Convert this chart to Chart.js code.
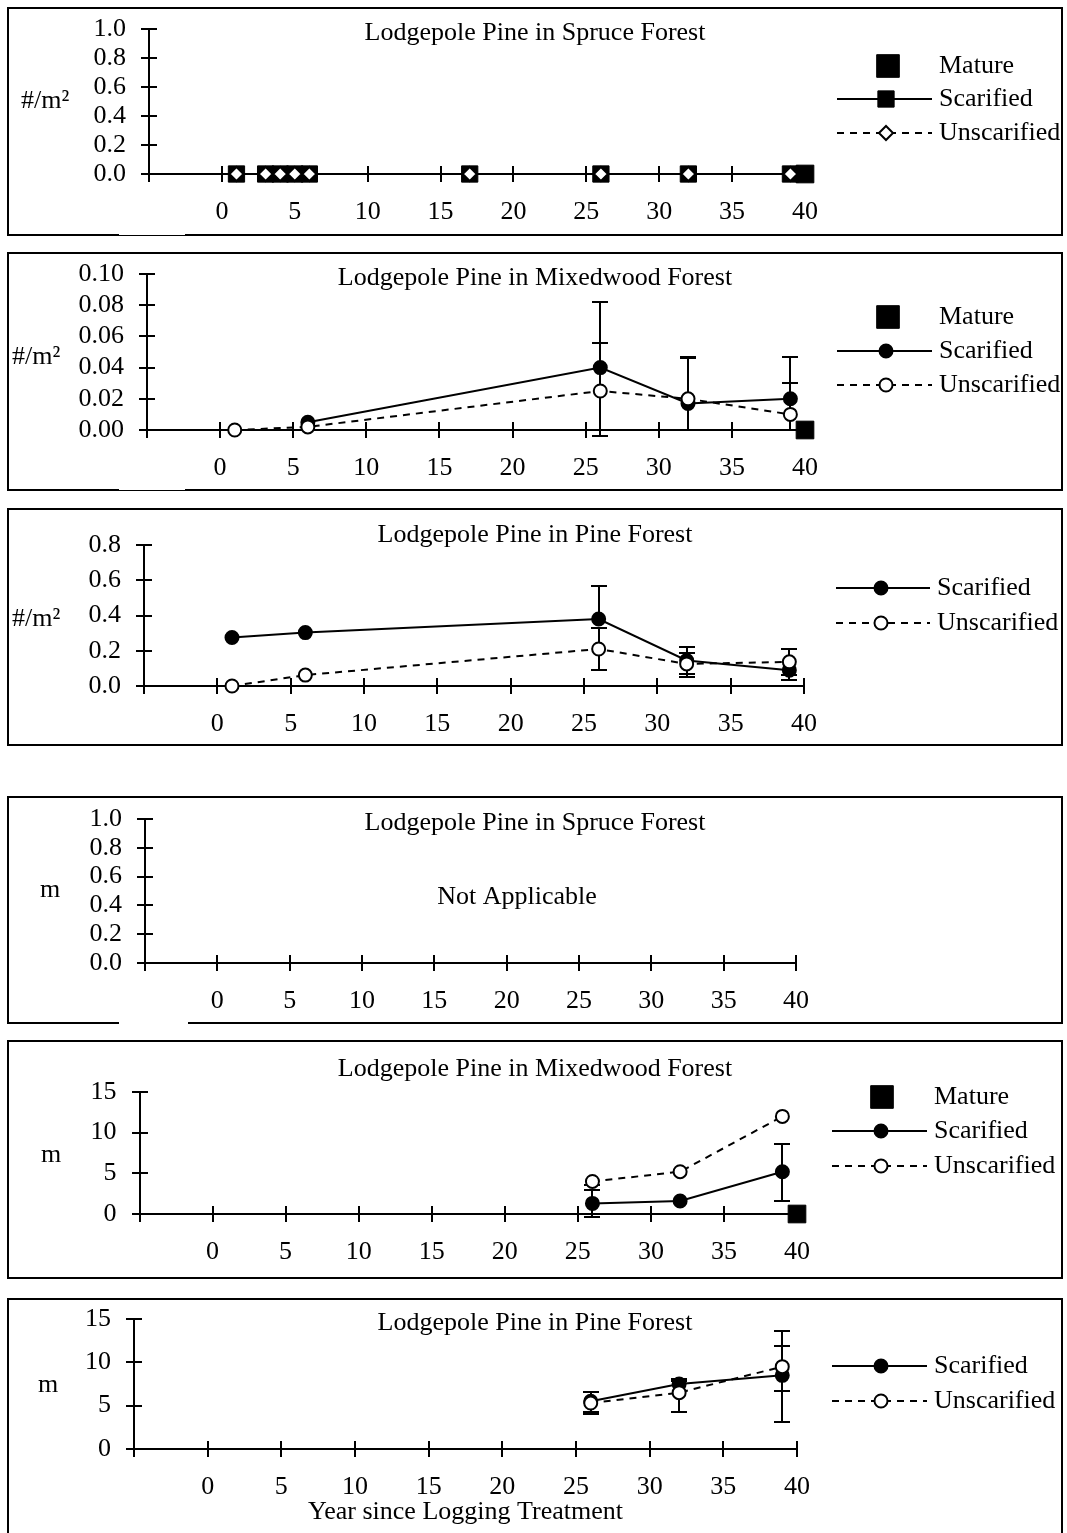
<!DOCTYPE html>
<html>
<head>
<meta charset="utf-8">
<title>Lodgepole Pine density and height</title>
<script src="https://cdn.jsdelivr.net/npm/chart.js@4.4.1/dist/chart.umd.min.js"></script>
<style>
html, body { margin: 0; padding: 0; background: #fff; }
body { position: relative; width: 1067px; height: 1533px; overflow: hidden; }
.panel { position: absolute; border: 2px solid #000; box-sizing: border-box; background: #fff; overflow: hidden; }
.panel canvas { position: absolute; left: 0; top: 0; }
.gap { position: absolute; background: #fff; }
</style>
</head>
<body>
<script>
// ---------------- DATA ----------------
// common
const matureYear = [40];

// Panel 1: density, Lodgepole Pine in Spruce Forest
const spruceYears = [1, 3, 4, 5, 6, 17, 26, 32, 39];
const spruceDensScarified = [0, 0, 0, 0, 0, 0, 0, 0, 0];
const spruceDensUnscarified = [0, 0, 0, 0, 0, 0, 0, 0, 0];
const spruceDensMature = [0];

// Panel 2: density, Lodgepole Pine in Mixedwood Forest
const mixYears = [1, 6, 26, 32, 39];
const mixDensScarified   = [null, 0.005, 0.040, 0.017, 0.020];
const mixDensScarifiedHi = [null, null, 0.082, 0.046, 0.047];
const mixDensScarifiedLo = [null, null, -0.004, 0, 0];
const mixDensUnscarified   = [0, 0.002, 0.025, 0.020, 0.010];
const mixDensUnscarifiedHi = [null, null, 0.056, 0.047, 0.030];
const mixDensUnscarifiedLo = [null, null, -0.004, 0, 0];
const mixDensMature = [0];

// Panel 3: density, Lodgepole Pine in Pine Forest
const pineYears = [1, 6, 26, 32, 39];
const pineDensScarified   = [0.275, 0.303, 0.38, 0.145, 0.09];
const pineDensScarifiedHi = [null, null, 0.57, 0.19, null];
const pineDensScarifiedLo = [null, null, null, 0.07, 0.035];
const pineDensUnscarified   = [0, 0.062, 0.21, 0.125, 0.137];
const pineDensUnscarifiedHi = [null, null, 0.33, 0.22, 0.21];
const pineDensUnscarifiedLo = [null, null, 0.09, 0.052, 0.062];

// Panel 5: height, Lodgepole Pine in Mixedwood Forest
const heightYears = [26, 32, 39];
const mixHtScarified   = [1.3, 1.6, 5.2];
const mixHtScarifiedHi = [2.9, null, 8.6];
const mixHtScarifiedLo = [-0.4, null, 1.6];
const mixHtUnscarified   = [4.0, 5.2, 12.0];
const mixHtUnscarifiedHi = [null, null, null];
const mixHtUnscarifiedLo = [3.6, null, null];
const mixHtMature = [0];

// Panel 6: height, Lodgepole Pine in Pine Forest
const pineHtScarified   = [5.5, 7.5, 8.5];
const pineHtScarifiedHi = [6.6, 8.1, 13.6];
const pineHtScarifiedLo = [4.3, null, 3.1];
const pineHtUnscarified   = [5.3, 6.5, 9.5];
const pineHtUnscarifiedHi = [null, 7.8, 11.9];
const pineHtUnscarifiedLo = [4.05, 4.3, 6.7];

// labels
const seriesNames = ['Unscarified', 'Scarified', 'Mature'];
const panelTitles = [
  'Lodgepole Pine in Spruce Forest',
  'Lodgepole Pine in Mixedwood Forest',
  'Lodgepole Pine in Pine Forest',
  'Lodgepole Pine in Spruce Forest',
  'Lodgepole Pine in Mixedwood Forest',
  'Lodgepole Pine in Pine Forest'
];
const densityUnit = '#/m\u00B2';
const heightUnit = 'm';
const xAxisTitle = 'Year since Logging Treatment';
const notApplicableText = 'Not Applicable';

// ---------------- STYLE / BUILDERS ----------------
const FAMILY = "'Liberation Serif', 'Times New Roman', Times, serif";
const FSIZE = 26;
const FONT = FSIZE + 'px ' + FAMILY;
const TOP_PAD = 17;
Chart.defaults.font.family = FAMILY;
Chart.defaults.font.size = FSIZE;
Chart.defaults.color = '#000';

function toPoints(xs, ys) { return xs.map((x, i) => ({ x: x, y: ys[i] })); }

function unscarDS(xs, ys, hi, lo, style) {
  return {
    label: seriesNames[0], data: toPoints(xs, ys), errHi: hi || null, errLo: lo || null,
    borderColor: '#000', borderWidth: 2, borderDash: [7, 6], backgroundColor: '#fff',
    pointStyle: style, pointRadius: style === 'rectRot' ? 7 : 6.5, pointBorderWidth: 2,
    pointBackgroundColor: '#fff', pointBorderColor: '#000', pointHoverRadius: 0,
    tension: 0, clip: false, order: 0, showLine: true, spanGaps: false
  };
}
function scarDS(xs, ys, hi, lo, style) {
  return {
    label: seriesNames[1], data: toPoints(xs, ys), errHi: hi || null, errLo: lo || null,
    borderColor: '#000', borderWidth: 2, backgroundColor: '#000',
    pointStyle: style, pointRadius: style === 'rect' ? 11.5 : 6.5, pointBorderWidth: style === 'rect' ? 1 : 2,
    pointBackgroundColor: '#000', pointBorderColor: '#000', pointHoverRadius: 0,
    tension: 0, clip: false, order: 1, showLine: true, spanGaps: false
  };
}
function matureDS(ys) {
  return {
    label: seriesNames[2], data: toPoints(matureYear, ys),
    borderColor: '#000', borderWidth: 0, backgroundColor: '#000',
    pointStyle: 'rect', pointRadius: 12.5, pointBorderWidth: 1,
    pointBackgroundColor: '#000', pointBorderColor: '#000', pointHoverRadius: 0,
    clip: false, order: 2, showLine: false
  };
}

// panel layout (page coordinates)
const panels = [
  { box: [7, 7, 1056, 229], xL: 149, xR: 805, yT: 29, yB: 174, yMax: 1.0, yStep: 0.2, dec: 1,
    title: panelTitles[0], titleY: 33, yUnit: densityUnit, yUnitX: 21, yUnitY: 101, yUnitAlign: 'left',
    datasets: [unscarDS(spruceYears, spruceDensUnscarified, null, null, 'rectRot'),
               scarDS(spruceYears, spruceDensScarified, null, null, 'rect'),
               matureDS(spruceDensMature)],
    legend: { x1: 837, x2: 932, mx: 886, tx: 939,
      rows: [{ ds: 2, y: 66, mx: 888, r: 16, line: false }, { ds: 1, y: 99, line: true }, { ds: 0, y: 133, line: true }] } },
  { box: [7, 252, 1056, 239], xL: 147, xR: 805, yT: 274, yB: 430, yMax: 0.10, yStep: 0.02, dec: 2,
    title: panelTitles[1], titleY: 278, yUnit: densityUnit, yUnitX: 12, yUnitY: 357, yUnitAlign: 'left',
    datasets: [unscarDS(mixYears, mixDensUnscarified, mixDensUnscarifiedHi, mixDensUnscarifiedLo, 'circle'),
               scarDS(mixYears, mixDensScarified, mixDensScarifiedHi, mixDensScarifiedLo, 'circle'),
               matureDS(mixDensMature)],
    legend: { x1: 837, x2: 932, mx: 886, tx: 939,
      rows: [{ ds: 2, y: 317, mx: 888, r: 16, line: false }, { ds: 1, y: 351, line: true }, { ds: 0, y: 385, line: true }] } },
  { box: [7, 508, 1056, 238], xL: 144, xR: 804, yT: 545, yB: 686, yMax: 0.8, yStep: 0.2, dec: 1,
    title: panelTitles[2], titleY: 535, yUnit: densityUnit, yUnitX: 12, yUnitY: 619, yUnitAlign: 'left',
    datasets: [unscarDS(pineYears, pineDensUnscarified, pineDensUnscarifiedHi, pineDensUnscarifiedLo, 'circle'),
               scarDS(pineYears, pineDensScarified, pineDensScarifiedHi, pineDensScarifiedLo, 'circle')],
    legend: { x1: 836, x2: 930, mx: 881, tx: 937,
      rows: [{ ds: 1, y: 588, line: true }, { ds: 0, y: 623, line: true }] } },
  { box: [7, 796, 1056, 228], xL: 145, xR: 796, yT: 819, yB: 963, yMax: 1.0, yStep: 0.2, dec: 1,
    title: panelTitles[3], titleY: 823, yUnit: heightUnit, yUnitX: 50, yUnitY: 890, yUnitAlign: 'center',
    note: { text: notApplicableText, x: 517, y: 897 },
    datasets: [], legend: null },
  { box: [7, 1040, 1056, 239], xL: 139.5, xR: 797, yT: 1092, yB: 1214, yMax: 15, yStep: 5, dec: 0,
    title: panelTitles[4], titleY: 1069, yUnit: heightUnit, yUnitX: 51, yUnitY: 1155, yUnitAlign: 'center',
    datasets: [unscarDS(heightYears, mixHtUnscarified, mixHtUnscarifiedHi, mixHtUnscarifiedLo, 'circle'),
               scarDS(heightYears, mixHtScarified, mixHtScarifiedHi, mixHtScarifiedLo, 'circle'),
               matureDS(mixHtMature)],
    legend: { x1: 832, x2: 927, mx: 881, tx: 934,
      rows: [{ ds: 2, y: 1097, mx: 882, r: 16, line: false }, { ds: 1, y: 1131, line: true }, { ds: 0, y: 1166, line: true }] } },
  { box: [7, 1298, 1056, 245], xL: 134, xR: 797, yT: 1319, yB: 1449, yMax: 15, yStep: 5, dec: 0,
    title: panelTitles[5], titleY: 1323, yUnit: heightUnit, yUnitX: 48, yUnitY: 1385, yUnitAlign: 'center',
    xTitle: xAxisTitle, xTitleY: 1512,
    datasets: [unscarDS(heightYears, pineHtUnscarified, pineHtUnscarifiedHi, pineHtUnscarifiedLo, 'circle'),
               scarDS(heightYears, pineHtScarified, pineHtScarifiedHi, pineHtScarifiedLo, 'circle')],
    legend: { x1: 832, x2: 927, mx: 881, tx: 934,
      rows: [{ ds: 1, y: 1366, line: true }, { ds: 0, y: 1401, line: true }] } }
];

// white breaks in the bottom borders
const borderGaps = [
  { left: 119, top: 234, width: 66, height: 1 },
  { left: 119, top: 489, width: 66, height: 1 },
  { left: 119, top: 1021, width: 69, height: 4 }
];

function drawMarker(ctx, style, r, x, y) {
  if (Chart.helpers && Chart.helpers.drawPoint) {
    Chart.helpers.drawPoint(ctx, { pointStyle: style, radius: r, borderWidth: ctx.lineWidth, rotation: 0 }, x, y);
    return;
  }
  ctx.beginPath();
  if (style === 'circle') ctx.arc(x, y, r, 0, Math.PI * 2);
  else if (style === 'rect') { const s = Math.SQRT1_2 * r; ctx.rect(x - s, y - s, 2 * s, 2 * s); }
  else { ctx.moveTo(x - r, y); ctx.lineTo(x, y - r); ctx.lineTo(x + r, y); ctx.lineTo(x, y + r); ctx.closePath(); }
  ctx.fill(); ctx.stroke();
}

const extrasPlugin = {
  id: 'panelExtras',
  beforeDatasetsDraw(chart, args, o) {
    const ctx = chart.ctx, xs = chart.scales.x, ys = chart.scales.y;
    ctx.save();
    ctx.strokeStyle = '#000'; ctx.lineWidth = 2; ctx.setLineDash([]);
    const y0 = Math.round(ys.getPixelForValue(ys.min));
    const x0 = Math.round(xs.getPixelForValue(xs.min));
    // crossing tick marks
    xs.ticks.forEach(t => {
      const p = Math.round(xs.getPixelForValue(t.value));
      ctx.beginPath(); ctx.moveTo(p, y0 - o.tick); ctx.lineTo(p, y0 + o.tick); ctx.stroke();
    });
    ys.ticks.forEach(t => {
      const p = Math.round(ys.getPixelForValue(t.value));
      ctx.beginPath(); ctx.moveTo(x0 - o.tick, p); ctx.lineTo(x0 + o.tick, p); ctx.stroke();
    });
    // error bars
    chart.data.datasets.forEach(ds => {
      if (!ds.errHi && !ds.errLo) return;
      ds.data.forEach((pt, j) => {
        if (pt.y === null || pt.y === undefined) return;
        const px = Math.round(xs.getPixelForValue(pt.x)), py = ys.getPixelForValue(pt.y);
        [ds.errHi ? ds.errHi[j] : null, ds.errLo ? ds.errLo[j] : null].forEach(v => {
          if (v === null || v === undefined) return;
          const ey = Math.round(ys.getPixelForValue(v));
          ctx.beginPath();
          ctx.moveTo(px, py); ctx.lineTo(px, ey);
          ctx.moveTo(px - o.cap, ey); ctx.lineTo(px + o.cap, ey);
          ctx.stroke();
        });
      });
    });
    ctx.restore();
  },
  afterDraw(chart, args, o) {
    const ctx = chart.ctx, ox = o.ox, oy = o.oy;
    ctx.save();
    ctx.font = FONT; ctx.fillStyle = '#000'; ctx.textBaseline = 'middle';
    if (o.yUnit) {
      ctx.textAlign = o.yUnitAlign;
      ctx.fillText(o.yUnit, o.yUnitX - ox, o.yUnitY - oy);
    }
    if (o.note) {
      ctx.textAlign = 'center';
      ctx.fillText(o.note.text, o.note.x - ox, o.note.y - oy);
    }
    if (o.legend) {
      const L = o.legend;
      L.rows.forEach(r => {
        const ds = chart.data.datasets[r.ds];
        const y = r.y - oy;
        if (r.line) {
          ctx.strokeStyle = '#000'; ctx.lineWidth = ds.borderWidth;
          ctx.setLineDash(ds.borderDash || []);
          ctx.beginPath(); ctx.moveTo(L.x1 - ox, y); ctx.lineTo(L.x2 - ox, y); ctx.stroke();
          ctx.setLineDash([]);
        }
        ctx.fillStyle = ds.pointBackgroundColor; ctx.strokeStyle = ds.pointBorderColor;
        ctx.lineWidth = ds.pointBorderWidth;
        drawMarker(ctx, ds.pointStyle, r.r || ds.pointRadius, (r.mx || L.mx) - ox, y);
        ctx.fillStyle = '#000'; ctx.font = FONT; ctx.textAlign = 'left'; ctx.textBaseline = 'middle';
        ctx.fillText(ds.label, L.tx - ox, y);
      });
    }
    ctx.restore();
  }
};

panels.forEach(cfg => {
  const [bl, bt, bw, bh] = cfg.box;
  const div = document.createElement('div');
  div.className = 'panel';
  div.style.left = bl + 'px'; div.style.top = bt + 'px';
  div.style.width = bw + 'px'; div.style.height = bh + 'px';
  const cw = bw - 4, ch = bh - 4;
  const canvas = document.createElement('canvas');
  canvas.width = cw; canvas.height = ch;
  canvas.style.width = cw + 'px'; canvas.style.height = ch + 'px';
  div.appendChild(canvas);
  document.body.appendChild(div);

  const ox = bl + 2, oy = bt + 2;
  const chartLeft = cfg.xL - ox, chartRight = cfg.xR - ox;
  const chartTop = cfg.yT - oy, chartBottom = cfg.yB - oy;
  const lineH = FSIZE * 1.2;
  const tPadTop = (cfg.titleY - oy) - TOP_PAD - lineH / 2;
  const tPadBottom = chartTop - TOP_PAD - lineH - tPadTop;
  const xH = ch - chartBottom;
  const rightW = cw - chartRight;
  const xTitlePadBottom = cfg.xTitle ? (ch - (cfg.xTitleY - oy) - lineH / 2) : 0;

  new Chart(canvas, {
    type: 'line',
    data: { datasets: cfg.datasets },
    plugins: [extrasPlugin],
    options: {
      responsive: false, animation: false, events: [], devicePixelRatio: 1,
      layout: { padding: { left: 0, top: TOP_PAD, bottom: 0, right: 0 } },
      plugins: {
        legend: { display: false },
        tooltip: { enabled: false },
        title: { display: true, text: cfg.title, color: '#000', font: { size: FSIZE, weight: 'normal' },
                 padding: { top: tPadTop, bottom: tPadBottom } },
        panelExtras: { ox: ox, oy: oy, tick: 8, cap: 8, yUnit: cfg.yUnit, yUnitX: cfg.yUnitX, yUnitY: cfg.yUnitY,
                       yUnitAlign: cfg.yUnitAlign, note: cfg.note || null, legend: cfg.legend }
      },
      scales: {
        x: {
          type: 'linear', position: 'bottom', min: -5, max: 40,
          ticks: { stepSize: 5, autoSkip: false, maxRotation: 0, minRotation: 0, padding: 0, color: '#000',
                   font: { size: FSIZE }, callback: v => (v < 0 ? '' : String(v)) },
          grid: { display: true, drawOnChartArea: false, drawTicks: true, tickLength: 23, tickColor: 'rgba(0,0,0,0)' },
          border: { display: true, color: '#000', width: 2 },
          title: cfg.xTitle ? { display: true, text: cfg.xTitle, color: '#000', font: { size: FSIZE },
                                padding: { top: 0, bottom: xTitlePadBottom } } : { display: false },
          afterFit: s => { s.height = xH; }
        },
        y: {
          type: 'linear', position: 'left', min: 0, max: cfg.yMax,
          ticks: { stepSize: cfg.yStep, autoSkip: false, padding: 0, color: '#000', font: { size: FSIZE },
                   callback: v => Number(v).toFixed(cfg.dec) },
          grid: { display: true, drawOnChartArea: false, drawTicks: true, tickLength: 23, tickColor: 'rgba(0,0,0,0)' },
          border: { display: true, color: '#000', width: 2 },
          afterFit: s => { s.width = chartLeft; }
        },
        yLegendSpace: {
          type: 'linear', position: 'right', min: 0, max: 1, display: true,
          ticks: { display: false, padding: 0 }, grid: { display: false, drawTicks: false }, border: { display: false },
          afterFit: s => { s.width = rightW; }
        }
      }
    }
  });
});

borderGaps.forEach(g => {
  const d = document.createElement('div');
  d.className = 'gap';
  d.style.left = g.left + 'px'; d.style.top = g.top + 'px';
  d.style.width = g.width + 'px'; d.style.height = g.height + 'px';
  document.body.appendChild(d);
});
</script>
</body>
</html>
